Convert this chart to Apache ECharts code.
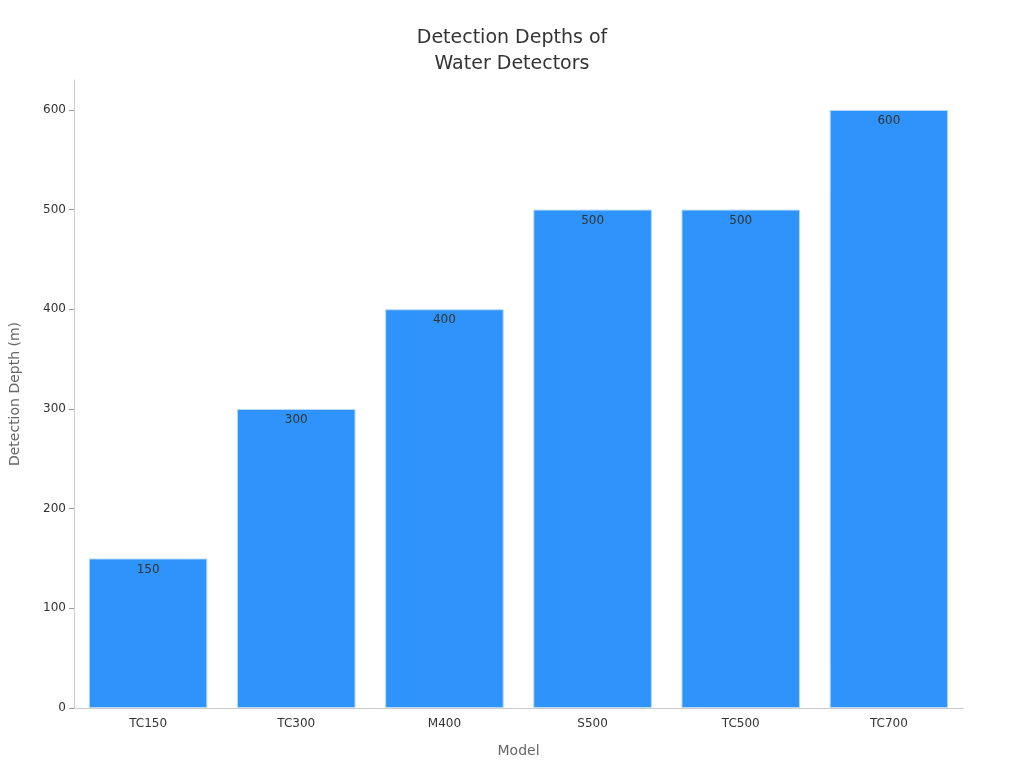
<!DOCTYPE html>
<html>
<head>
<meta charset="utf-8">
<script src="https://cdn.jsdelivr.net/npm/echarts@6/dist/echarts.min.js"></script>
<style>html,body{margin:0;padding:0;background:#fff}#chart{width:1024px;height:768px}</style>
</head>
<body>
<div id="chart"></div>
<script>
const models = ["TC150", "TC300", "M400", "S500", "TC500", "TC700"];
const depths = [150, 300, 400, 500, 500, 600];

const chart = echarts.init(document.getElementById("chart"));
chart.setOption({
  textStyle: { fontFamily: "DejaVu Sans" },
  title: {
    text: "Detection Depths of\nWater Detectors",
    left: "center",
    top: 20,
    textStyle: { fontSize: 19, fontWeight: "normal", color: "#333", lineHeight: 26 }
  },
  grid: { left: 68, right: 61, top: 80, bottom: 60 },
  xAxis: {
    type: "category",
    data: models,
    name: "Model",
    nameLocation: "middle",
    nameGap: 36,
    nameTextStyle: { fontSize: 14, color: "#666" },
    axisLine: { lineStyle: { color: "#ccc" } },
    axisTick: { show: false },
    axisLabel: { color: "#333", fontSize: 12, margin: 10 }
  },
  yAxis: {
    type: "value",
    min: 0,
    max: 630,
    interval: 100,
    name: "Detection Depth (m)",
    nameLocation: "middle",
    nameGap: 52,
    nameTextStyle: { fontSize: 14, color: "#666" },
    axisLine: { show: true, lineStyle: { color: "#ccc" } },
    axisTick: { show: true, length: 5, lineStyle: { color: "#999" } },
    axisLabel: { color: "#333", fontSize: 12, showMaxLabel: false },
    splitLine: { show: false }
  },
  series: [
    {
      type: "bar",
      data: depths,
      barCategoryGap: "20%",
      itemStyle: { color: "#2e93fa", borderColor: "#b9d9f7", borderWidth: 1 },
      label: { show: true, position: "insideTop", color: "#333", fontSize: 12, offset: [0, 0] }
    }
  ]
});
</script>
</body>
</html>
